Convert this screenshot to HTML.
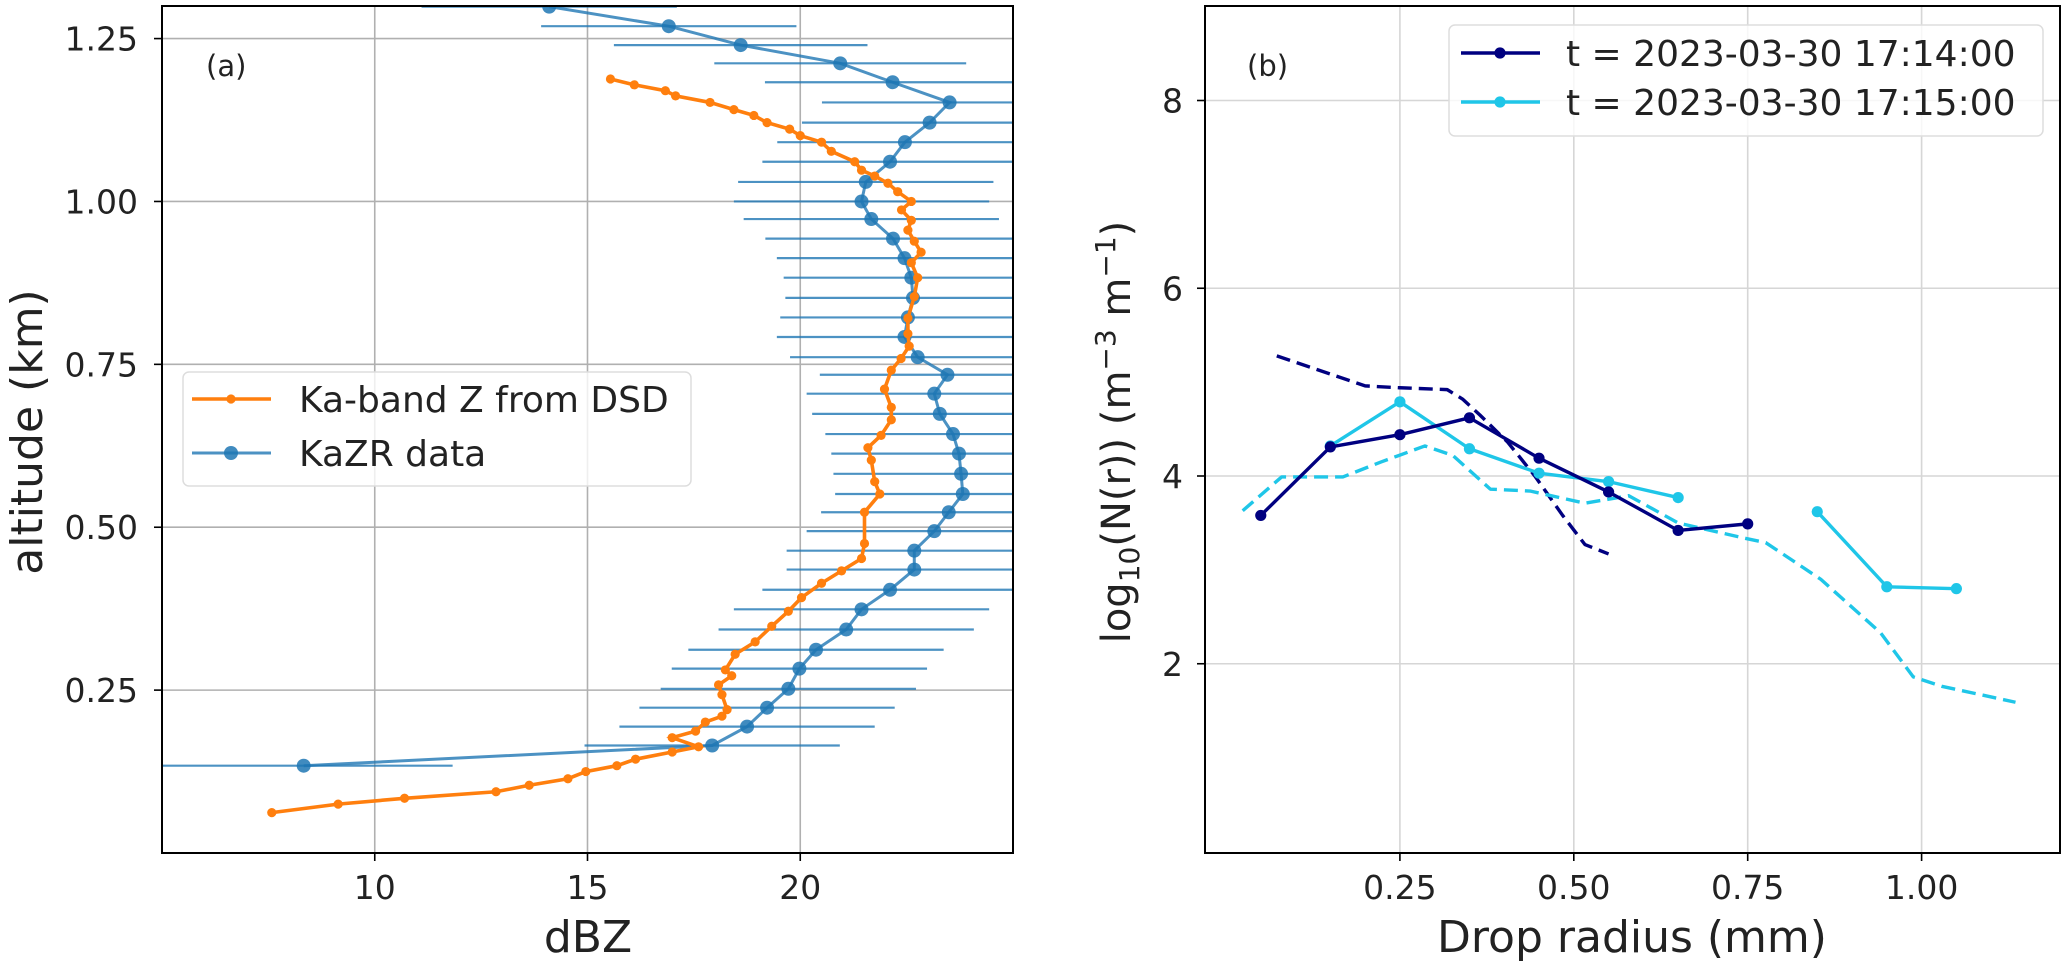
<!DOCTYPE html>
<html><head><meta charset="utf-8"><style>
html,body{margin:0;padding:0;background:#fff;}
svg{display:block;font-family:"DejaVu Sans","Liberation Sans",sans-serif;}
</style></head><body>
<svg id="chart" width="2066" height="970" viewBox="0 0 2066 970" xmlns="http://www.w3.org/2000/svg">
<defs>
<clipPath id="clipA"><rect x="162" y="6" width="851" height="847"/></clipPath>
<clipPath id="clipB"><rect x="1205" y="6" width="855" height="847"/></clipPath>
</defs>
<g id="panelA"></g>
<g id="panelB"></g>
</svg>
<script>
// ---- Panel (a) data ----
const kazrAlt = [1.299,1.269,1.240,1.212,1.183,1.152,1.121,1.091,1.061,1.030,1.000,0.973,0.943,0.913,0.883,0.852,0.822,0.792,0.761,0.734,0.705,0.674,0.643,0.613,0.582,0.551,0.523,0.494,0.464,0.435,0.404,0.374,0.343,0.312,0.283,0.252,0.223,0.194,0.165,0.134];
const kazrDbz = [14.10,16.91,18.60,20.94,22.17,23.51,23.04,22.46,22.11,21.54,21.44,21.67,22.18,22.45,22.61,22.65,22.53,22.45,22.76,23.46,23.15,23.28,23.59,23.73,23.78,23.82,23.49,23.15,22.68,22.68,22.11,21.44,21.08,20.37,19.98,19.72,19.22,18.75,17.93,8.33];
const kazrErr = [3.0,3.0,2.98,2.96,3.0,3.0,3.0,3.0,3.0,3.0,3.0,3.0,3.0,3.0,3.0,3.0,3.0,3.0,3.0,3.0,3.0,3.0,3.0,3.0,3.0,3.0,3.0,3.0,3.0,3.0,3.0,3.0,3.0,3.0,3.0,3.0,3.0,3.0,3.0,3.5];
const dsdAlt = [1.188,1.179,1.170,1.162,1.152,1.141,1.132,1.121,1.111,1.101,1.091,1.077,1.061,1.048,1.039,1.028,1.015,1.000,0.987,0.971,0.956,0.939,0.922,0.906,0.883,0.854,0.821,0.797,0.778,0.759,0.741,0.712,0.684,0.665,0.641,0.622,0.603,0.570,0.551,0.523,0.475,0.452,0.433,0.414,0.392,0.371,0.348,0.324,0.305,0.281,0.272,0.258,0.243,0.220,0.210,0.201,0.187,0.177,0.163,0.155,0.144,0.134,0.125,0.114,0.104,0.094,0.084,0.075,0.062];
const dsdDbz = [15.54,16.10,16.83,17.07,17.88,18.44,18.91,19.22,19.75,20.0,20.5,20.73,21.28,21.44,21.75,22.06,22.29,22.61,22.38,22.61,22.53,22.68,22.84,22.61,22.76,22.68,22.53,22.53,22.56,22.37,22.14,21.98,22.14,22.14,21.90,21.59,21.67,21.75,21.87,21.51,21.51,21.44,20.97,20.5,20.03,19.72,19.33,18.94,18.47,18.24,18.39,18.08,18.16,18.28,18.16,17.77,17.54,16.99,17.61,16.99,16.13,15.69,14.96,14.54,13.63,12.85,10.70,9.14,7.58];
const aXTicks = [10,15,20];
const aYTicks = [0.25,0.50,0.75,1.00,1.25];
const aYTickLabels = ["0.25","0.50","0.75","1.00","1.25"];

// ---- Panel (b) data ----
const radiusBins = [0.05,0.15,0.25,0.35,0.45,0.55,0.65,0.75];
const n1714 = [3.58,4.31,4.44,4.62,4.19,3.83,3.42,3.49];
const radiusBins1715a = [0.15,0.25,0.35,0.45,0.55,0.65];
const n1715a = [4.32,4.79,4.29,4.03,3.94,3.77];
const radiusBins1715b = [0.85,0.95,1.05];
const n1715b = [3.62,2.82,2.80];
const fitR1714 = [0.073,0.2,0.25,0.318,0.34,0.365,0.405,0.444,0.484,0.516,0.55];
const fitN1714 = [5.28,4.96,4.94,4.92,4.82,4.65,4.36,4.0,3.58,3.27,3.17];
const fitR1715 = [0.024,0.08,0.168,0.223,0.286,0.326,0.38,0.437,0.516,0.579,0.65,0.744,0.776,0.855,0.941,0.988,1.029,1.135];
const fitN1715 = [3.63,3.99,3.99,4.15,4.32,4.22,3.86,3.84,3.71,3.79,3.50,3.34,3.29,2.90,2.33,1.86,1.76,1.59];
const bXTicks = [0.25,0.50,0.75,1.00];
const bXTickLabels = ["0.25","0.50","0.75","1.00"];
const bYTicks = [2,4,6,8];

const NS = "http://www.w3.org/2000/svg";
function mk(parent, tag, attrs, text) {
  const e = document.createElementNS(NS, tag);
  for (const k in attrs) e.setAttribute(k, attrs[k]);
  if (text !== undefined) e.textContent = text;
  parent.appendChild(e);
  return e;
}
function lin(d0, d1, r0, r1) { return v => r0 + (v - d0) * (r1 - r0) / (d1 - d0); }

// ---------- Panel A ----------
const A = document.getElementById('panelA');
const ax = lin(5, 25, 162, 1013);
const ay = lin(0, 1.3, 853, 6);
const gridA = mk(A, 'g', {});


aXTicks.forEach(t => {
  const x = ax(t);
  const l = mk(gridA, 'line', {x1:x, x2:x, y1:6, y2:853, stroke:'#b0b0b0', 'stroke-width':1.6});
  
  
  mk(A, 'line', {x1:x, x2:x, y1:853, y2:861, stroke:'#000', 'stroke-width':1.6});
  const tx = mk(A, 'text', {x:x, y:899, 'font-size':33, 'text-anchor':'middle', fill:'#222'}, String(t));
  
  
});
aYTicks.forEach((t, i) => {
  const y = ay(t);
  const l = mk(gridA, 'line', {x1:162, x2:1013, y1:y, y2:y, stroke:'#b0b0b0', 'stroke-width':1.6});
  
  
  mk(A, 'line', {x1:154, x2:162, y1:y, y2:y, stroke:'#000', 'stroke-width':1.6});
  const tx = mk(A, 'text', {x:138, y:y+12, 'font-size':33, 'text-anchor':'end', fill:'#222'}, aYTickLabels[i]);
  
  
});
const dataA = mk(A, 'g', {'clip-path':'url(#clipA)'});
kazrAlt.forEach((a, i) => {
  const y = ay(a);
  const eb = mk(dataA, 'line', {x1:ax(kazrDbz[i]-kazrErr[i]), x2:ax(kazrDbz[i]+kazrErr[i]), y1:y, y2:y, stroke:'#1f77b4', 'stroke-width':2.2, 'stroke-opacity':0.8});
  
  
});
const kpts = kazrAlt.map((a, i) => ax(kazrDbz[i]) + ',' + ay(a)).join(' ');
const kline = mk(dataA, 'polyline', {points:kpts, fill:'none', stroke:'#1f77b4', 'stroke-width':3, 'stroke-opacity':0.8});


kazrAlt.forEach((a, i) => {
  const c = mk(dataA, 'circle', {cx:ax(kazrDbz[i]), cy:ay(a), r:7, fill:'#1f77b4', 'fill-opacity':0.85});
  
  
});
const opts = dsdAlt.map((a, i) => ax(dsdDbz[i]) + ',' + ay(a)).join(' ');
const oline = mk(dataA, 'polyline', {points:opts, fill:'none', stroke:'#ff7f0e', 'stroke-width':3.6});


dsdAlt.forEach((a, i) => {
  const c = mk(dataA, 'circle', {cx:ax(dsdDbz[i]), cy:ay(a), r:4.6, fill:'#ff7f0e'});
  
  
});
const frameA = mk(A, 'rect', {x:162, y:6, width:851, height:847, fill:'none', stroke:'#000', 'stroke-width':2});


const pa = mk(A, 'text', {x:206, y:76, 'font-size':29, fill:'#222'}, '(a)');


const xla = mk(A, 'text', {x:588, y:952, 'font-size':44, 'text-anchor':'middle', fill:'#222'}, 'dBZ');


const yla = mk(A, 'text', {x:0, y:0, 'font-size':44, 'text-anchor':'middle', fill:'#222', transform:'translate(42,432) rotate(-90)'}, 'altitude (km)');


const legA = mk(A, 'g', {});


mk(legA, 'rect', {x:183, y:372, width:508, height:114, rx:6, fill:'#fff', 'fill-opacity':0.8, stroke:'#ddd', 'stroke-width':1.5});
const leA1 = mk(legA, 'g', {});


mk(leA1, 'line', {x1:192, x2:271, y1:399, y2:399, stroke:'#ff7f0e', 'stroke-width':3.6});
mk(leA1, 'circle', {cx:231, cy:399, r:4.6, fill:'#ff7f0e'});
mk(leA1, 'text', {x:299, y:412, 'font-size':36, fill:'#222'}, 'Ka-band Z from DSD');
const leA2 = mk(legA, 'g', {});


mk(leA2, 'line', {x1:192, x2:271, y1:453, y2:453, stroke:'#1f77b4', 'stroke-width':3, 'stroke-opacity':0.8});
mk(leA2, 'circle', {cx:231, cy:453, r:7, fill:'#1f77b4', 'fill-opacity':0.85});
mk(leA2, 'text', {x:299, y:466, 'font-size':36, fill:'#222'}, 'KaZR data');

// ---------- Panel B ----------
const B = document.getElementById('panelB');
const bx = lin(0, 1.0, 1226, 1921.6);
const by = lin(0, 8, 851.5, 100.5);
bXTicks.forEach((t, i) => {
  const x = bx(t);
  const l = mk(B, 'line', {x1:x, x2:x, y1:6, y2:853, stroke:'#d6d6d6', 'stroke-width':1.6});
  
  
  mk(B, 'line', {x1:x, x2:x, y1:853, y2:861, stroke:'#000', 'stroke-width':1.6});
  const tx = mk(B, 'text', {x:x, y:899, 'font-size':33, 'text-anchor':'middle', fill:'#222'}, bXTickLabels[i]);
  
  
});
bYTicks.forEach(t => {
  const y = by(t);
  const l = mk(B, 'line', {x1:1205, x2:2060, y1:y, y2:y, stroke:'#d6d6d6', 'stroke-width':1.6});
  
  
  mk(B, 'line', {x1:1197, x2:1205, y1:y, y2:y, stroke:'#000', 'stroke-width':1.6});
  const tx = mk(B, 'text', {x:1183, y:y+12, 'font-size':33, 'text-anchor':'end', fill:'#222'}, String(t));
  
  
});
const dataB = mk(B, 'g', {'clip-path':'url(#clipB)'});
const NAVY = '#000080', CYAN = '#1fc6e8';
function pl(xs, ys, color, dashed, name) {
  const p = mk(dataB, 'polyline', {points: xs.map((r, i) => bx(r) + ',' + by(ys[i])).join(' '), fill:'none', stroke:color, 'stroke-width':3.4, 'stroke-linejoin':'round'});
  if (dashed) p.setAttribute('stroke-dasharray', '14 7');
  
  
}
function pts(xs, ys, color, name) {
  xs.forEach((r, i) => {
    const c = mk(dataB, 'circle', {cx:bx(r), cy:by(ys[i]), r:5.6, fill:color});
    
    
  });
}
pl(fitR1714, fitN1714, NAVY, true, 'fit-1714-dashed');
pl(fitR1715, fitN1715, CYAN, true, 'fit-1715-dashed');
pl(radiusBins1715a, n1715a, CYAN, false, 'dsd-1715-line');
pl(radiusBins1715b, n1715b, CYAN, false, 'dsd-1715-line-b');
pts(radiusBins1715a, n1715a, CYAN, 'dsd-1715-point');
pts(radiusBins1715b, n1715b, CYAN, 'dsd-1715-point');
pl(radiusBins, n1714, NAVY, false, 'dsd-1714-line');
pts(radiusBins, n1714, NAVY, 'dsd-1714-point');
const frameB = mk(B, 'rect', {x:1205, y:6, width:855, height:847, fill:'none', stroke:'#000', 'stroke-width':2});


const pb = mk(B, 'text', {x:1247, y:76, 'font-size':29, fill:'#222'}, '(b)');


const xlb = mk(B, 'text', {x:1632, y:952, 'font-size':44, 'text-anchor':'middle', fill:'#222'}, 'Drop radius (mm)');


const ylb = mk(B, 'text', {x:0, y:0, 'font-size':40, 'text-anchor':'middle', fill:'#222', transform:'translate(1130,432) rotate(-90)'});


mk(ylb, 'tspan', {}, 'log');
mk(ylb, 'tspan', {'font-size':28, dy:9}, '10');
mk(ylb, 'tspan', {dy:-9}, '(N(r)) (m');
mk(ylb, 'tspan', {'font-size':28, dy:-15}, '−3');
mk(ylb, 'tspan', {dy:15}, ' m');
mk(ylb, 'tspan', {'font-size':28, dy:-15}, '−1');
mk(ylb, 'tspan', {dy:15}, ')');
const legB = mk(B, 'g', {});


mk(legB, 'rect', {x:1449, y:25, width:594, height:111, rx:6, fill:'#fff', 'fill-opacity':0.8, stroke:'#ddd', 'stroke-width':1.5});
const leB1 = mk(legB, 'g', {});


mk(leB1, 'line', {x1:1461, x2:1540, y1:53, y2:53, stroke:NAVY, 'stroke-width':3.4});
mk(leB1, 'circle', {cx:1500, cy:53, r:5.6, fill:NAVY});
mk(leB1, 'text', {x:1566, y:66, 'font-size':36, fill:'#222'}, 't = 2023-03-30 17:14:00');
const leB2 = mk(legB, 'g', {});


mk(leB2, 'line', {x1:1461, x2:1540, y1:102, y2:102, stroke:CYAN, 'stroke-width':3.4});
mk(leB2, 'circle', {cx:1500, cy:102, r:5.6, fill:CYAN});
mk(leB2, 'text', {x:1566, y:115, 'font-size':36, fill:'#222'}, 't = 2023-03-30 17:15:00');
</script>
</body></html>
